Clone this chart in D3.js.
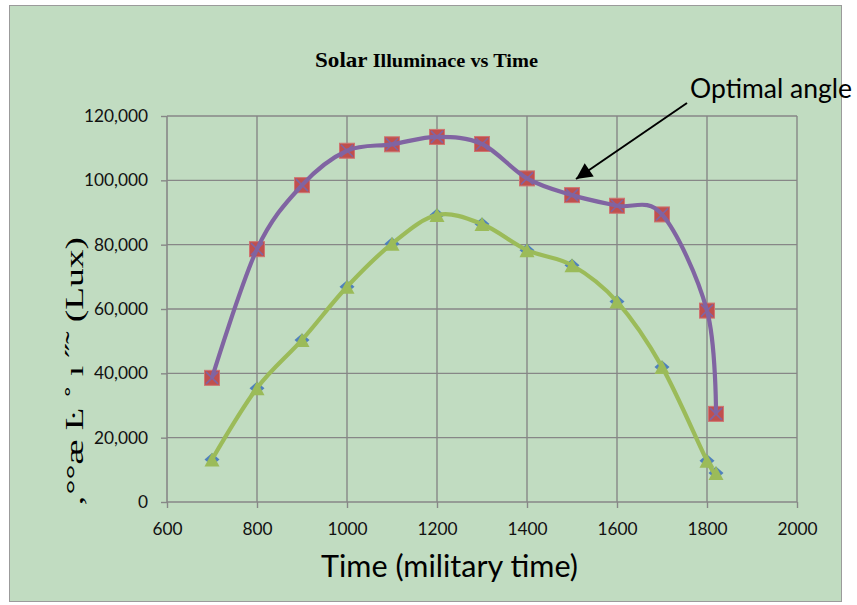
<!DOCTYPE html>
<html>
<head>
<meta charset="utf-8">
<script src="https://cdn.jsdelivr.net/npm/d3@7/dist/d3.min.js"></script>
<style>
  html, body { margin: 0; padding: 0; background: #ffffff; }
  svg { display: block; }
</style>
</head>
<body>
<svg id="chart" width="857" height="605"></svg>
<script>
// ---- data ----
const times = [700, 800, 900, 1000, 1100, 1200, 1300, 1400, 1500, 1600, 1700, 1800, 1820];
const optimalLux = [38600, 78600, 98500, 109200, 111200, 113500, 111300, 100600, 95400, 92100, 89400, 59500, 27400];
const secondLux = [13200, 35400, 50400, 66900, 80300, 89200, 86400, 78300, 73600, 62300, 42000, 12800, 9000];
const xTicks = [600, 800, 1000, 1200, 1400, 1600, 1800, 2000];
const yTicks = [0, 20000, 40000, 60000, 80000, 100000, 120000];
const titleMain = "Solar";
const titleRest = " Illuminace vs Time";
const xLabel = "Time (military time)";
const yLabel = "\u201A\u00B0\u00B0\u00E6 \u013F \u02DA \u0131 \u02DD\u02DC (Lux)";
const annotation = "Optimal angle";

// ---- layout ----
const W = 857, H = 605;
const plot = { left: 167, right: 797, top: 116, bottom: 502 };
const gridColor = "#878787";
const bg = "#c1dcc1";

const svg = d3.select("#chart");

svg.append("rect")
  .attr("x", 9.5).attr("y", 5.5).attr("width", 832).attr("height", 596)
  .attr("fill", bg).attr("stroke", "#9b9b9b").attr("stroke-width", 1);

const x = d3.scaleLinear().domain([600, 2000]).range([plot.left, plot.right]);
const y = d3.scaleLinear().domain([0, 120000]).range([plot.bottom, plot.top]);

// gridlines
const grid = svg.append("g").attr("stroke", gridColor).attr("stroke-width", 1.4);
grid.selectAll("line.h").data(yTicks.filter(d => d > 0)).join("line")
  .attr("x1", plot.left).attr("x2", plot.right)
  .attr("y1", d => y(d)).attr("y2", d => y(d));
grid.selectAll("line.v").data(xTicks.filter(d => d > 600)).join("line")
  .attr("x1", d => x(d)).attr("x2", d => x(d))
  .attr("y1", plot.top).attr("y2", plot.bottom);

// axes
const fontTick = "Lato, 'Open Sans', sans-serif";
const yAxis = svg.append("g")
  .attr("transform", `translate(${plot.left},0)`)
  .call(d3.axisLeft(y).tickValues(yTicks).tickFormat(d3.format(",")).tickSize(6).tickPadding(13));
const xAxis = svg.append("g")
  .attr("transform", `translate(0,${plot.bottom})`)
  .call(d3.axisBottom(x).tickValues(xTicks).tickFormat(d3.format("d")).tickSize(6).tickPadding(14.5));
[yAxis, xAxis].forEach(a => {
  a.select(".domain").attr("stroke", gridColor).attr("stroke-width", 1.6);
  a.selectAll(".tick line").attr("stroke", gridColor).attr("stroke-width", 1.4);
  a.selectAll(".tick text").attr("fill", "#111").style("font-family", fontTick).style("font-size", "17.3px");
});
yAxis.select(".domain").attr("d", `M0,${plot.top}V${plot.bottom}`);
xAxis.select(".domain").attr("d", `M${plot.left},0H${plot.right}`);

// ---- series ----
const ptsOpt = times.map((t, i) => [t, optimalLux[i]]);
const ptsSec = times.map((t, i) => [t, secondLux[i]]);
const line = d3.line().x(d => x(d[0])).y(d => y(d[1])).curve(d3.curveCardinal.tension(0));

// blue diamonds (behind triangles)
svg.append("g").selectAll("path").data(ptsSec).join("path")
  .attr("transform", d => `translate(${x(d[0])},${y(d[1])})`)
  .attr("d", "M0,-6.5L7.5,0L0,6.5L-7.5,0Z")
  .attr("fill", "#4f81bd");

// red squares
svg.append("g").selectAll("rect").data(ptsOpt).join("rect")
  .attr("x", d => x(d[0]) - 7.5).attr("y", d => y(d[1]) - 7.5)
  .attr("width", 15).attr("height", 15)
  .attr("fill", "#c0504d").attr("stroke", "#cf7472").attr("stroke-width", 1);

// green line + triangles
svg.append("path").datum(ptsSec)
  .attr("d", line).attr("fill", "none")
  .attr("stroke", "#9bbb59").attr("stroke-width", 4.2).attr("stroke-linejoin", "round");
svg.append("g").selectAll("path").data(ptsSec).join("path")
  .attr("transform", d => `translate(${x(d[0])},${y(d[1])})`)
  .attr("d", "M0,-7L7.5,7L-7.5,7Z")
  .attr("fill", "#9bbb59");

// purple line + X marks
svg.append("path").datum(ptsOpt)
  .attr("d", line).attr("fill", "none")
  .attr("stroke", "#8064a2").attr("stroke-width", 4.2).attr("stroke-linejoin", "round");
svg.append("g").selectAll("path").data(ptsOpt).join("path")
  .attr("transform", d => `translate(${x(d[0])},${y(d[1])})`)
  .attr("d", "M-6,-6L6,6M-6,6L6,-6")
  .attr("fill", "none").attr("stroke", "#8064a2").attr("stroke-width", 1.6);

// ---- texts ----
const title = svg.append("text")
  .attr("x", 315).attr("y", 67)
  .attr("textLength", 223).attr("lengthAdjust", "spacingAndGlyphs")
  .style("font-family", "'Liberation Serif', 'Times New Roman', serif")
  .style("font-weight", "bold").attr("fill", "#000");
title.append("tspan").style("font-size", "21px").text(titleMain);
title.append("tspan").style("font-size", "18.5px").text(titleRest);

svg.append("text")
  .attr("x", 321).attr("y", 577)
  .attr("textLength", 257).attr("lengthAdjust", "spacingAndGlyphs")
  .style("font-family", "Lato, 'Open Sans', sans-serif").style("font-size", "30px")
  .attr("fill", "#000").text(xLabel);

svg.append("text")
  .attr("transform", "translate(83,372) rotate(-90)")
  .attr("text-anchor", "middle")
  .attr("textLength", 270).attr("lengthAdjust", "spacingAndGlyphs")
  .style("font-family", "'Liberation Serif', 'Times New Roman', serif").style("font-size", "25px")
  .attr("fill", "#000").text(yLabel);

svg.append("text")
  .attr("x", 690).attr("y", 98)
  .attr("textLength", 162).attr("lengthAdjust", "spacingAndGlyphs")
  .style("font-family", "Lato, 'Open Sans', sans-serif").style("font-size", "26px")
  .attr("fill", "#000").text(annotation);

// arrow
svg.append("defs").append("marker")
  .attr("id", "arrowhead").attr("viewBox", "0 0 10 10")
  .attr("refX", 10).attr("refY", 5)
  .attr("markerWidth", 9).attr("markerHeight", 8)
  .attr("markerUnits", "strokeWidth").attr("orient", "auto")
  .append("path").attr("d", "M0,0L10,5L0,10Z").attr("fill", "#000");
svg.append("line")
  .attr("x1", 687).attr("y1", 103).attr("x2", 576).attr("y2", 179)
  .attr("stroke", "#000").attr("stroke-width", 2)
  .attr("marker-end", "url(#arrowhead)");
</script>
</body>
</html>
